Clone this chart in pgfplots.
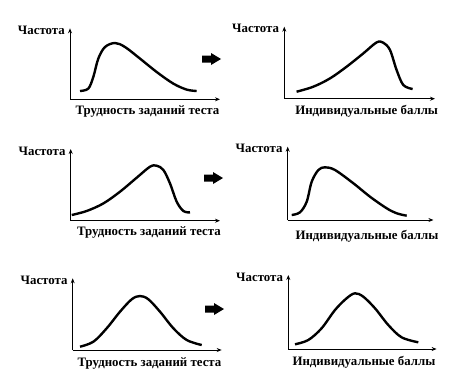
\documentclass[border=0pt]{standalone}
\usepackage{fontspec}
\setmainfont{Liberation Serif}
\usepackage{pgfplots}
\pgfplotsset{compat=1.18}
\usetikzlibrary{arrows.meta}
\newcommand{\lblfont}{\bfseries\fontsize{12.9}{15}\selectfont}
\pgfplotsset{
  panel/.style={
    x=1bp, y=1bp,
    anchor=origin,
    axis lines=left,
    axis line style={line width=1pt, -{Stealth[length=5pt,width=4pt]}},
    xtick=\empty, ytick=\empty,
    xmin=0, ymin=0,
    clip=false,
    every axis y label/.style={at={(rel axis cs:0,1)}, anchor=base east, inner sep=0pt, xshift=-5bp, yshift=-6bp, font=\lblfont},
    every axis x label/.style={at={(rel axis cs:0.5,0)}, anchor=north, inner sep=0pt, yshift=-6bp, font=\lblfont},
    ylabel={Частота},
  },
  curve/.style={black, line width=2.4pt, smooth, tension=0.55, mark=none},
}
\newcommand{\blockarrow}[2]{% x start, y center
  \fill[black] (#1bp,#2bp+3.5bp) -- ++(9bp,0) -- ++(0,2.5bp) -- ++(10bp,-6bp) -- ++(-10bp,-6bp) -- ++(0,2.5bp) -- ++(-9bp,0) -- cycle;}
\begin{document}
\begin{tikzpicture}
\path[use as bounding box] (0,0) rectangle (457bp,-375bp);
% Row 1
\begin{axis}[panel, at={(70bp,-99.3bp)}, xmax=150, ymax=71,
  xlabel={Трудность заданий теста}, xlabel style={xshift=2.5bp}]
\addplot[curve] coordinates {(10,8.3) (18.3,10.7) (23.3,22.3) (28.3,40.7) (35,52.3) (45,56.3) (55,52.3) (70,40.7) (86.7,27.3) (103.3,15.7) (116.7,9.7) (126.7,8.3)};
\end{axis}
\begin{axis}[panel, at={(284.3bp,-98.7bp)}, xmax=150.7, ymax=72,
  xlabel={Индивидуальные баллы}, xlabel style={xshift=7bp}]
\addplot[curve] coordinates {(12.3,7) (29,12) (45.7,20.3) (62.3,32) (79,45.3) (92.3,56.3) (99,56) (105.7,48.7) (112.3,28.7) (119,13.7) (128.3,9.7)};
\end{axis}
% Row 2
\begin{axis}[panel, at={(70.7bp,-220.7bp)}, xmax=149.3, ymax=71.7,
  xlabel={Трудность заданий теста}, xlabel style={xshift=3.6bp}]
\addplot[curve] coordinates {(1,5.7) (16,9.7) (32.7,17.3) (49.3,29) (66,43) (79.3,54) (86,55) (92.7,50.7) (99.3,37.3) (106,19) (112.7,9.7) (119.3,8.3)};
\end{axis}
\begin{axis}[panel, at={(287.7bp,-220bp)}, xmax=145.7, ymax=73.3,
  xlabel={Индивидуальные баллы}, xlabel style={xshift=6.4bp, yshift=-4bp}]
\addplot[curve] coordinates {(4,5) (12.3,7.7) (19,18.3) (24,38.3) (30.7,50) (37.3,52.7) (47.3,50) (65.7,36.7) (82.3,23.3) (99,11.7) (109,6.7) (119,4.3)};
\end{axis}
% Row 3
\begin{axis}[panel, at={(72.7bp,-350bp)}, xmax=149, ymax=71.7,
  xlabel={Трудность заданий теста}, xlabel style={xshift=2.3bp, yshift=-1bp}]
\addplot[curve] coordinates {(7.3,3.3) (20.7,8.3) (34,21.7) (47.3,38.3) (59,50.7) (67.3,54) (75.7,50.7) (87.3,38.3) (100.7,21.7) (114,10) (129,5)};
\end{axis}
\begin{axis}[panel, at={(288.3bp,-349bp)}, xmax=148.3, ymax=74,
  xlabel={Индивидуальные баллы}, xlabel style={xshift=1.5bp, yshift=-1bp}]
\addplot[curve] coordinates {(6.7,4.7) (20,9) (33.3,20.7) (46.7,39) (58.3,50.7) (66.7,55.7) (75,52.3) (86.7,40.7) (100,24) (113.3,11.7) (130,6.7)};
\end{axis}
% Block arrows
\blockarrow{202}{-59}
\blockarrow{204}{-178}
\blockarrow{205}{-309}
\end{tikzpicture}
\end{document}
